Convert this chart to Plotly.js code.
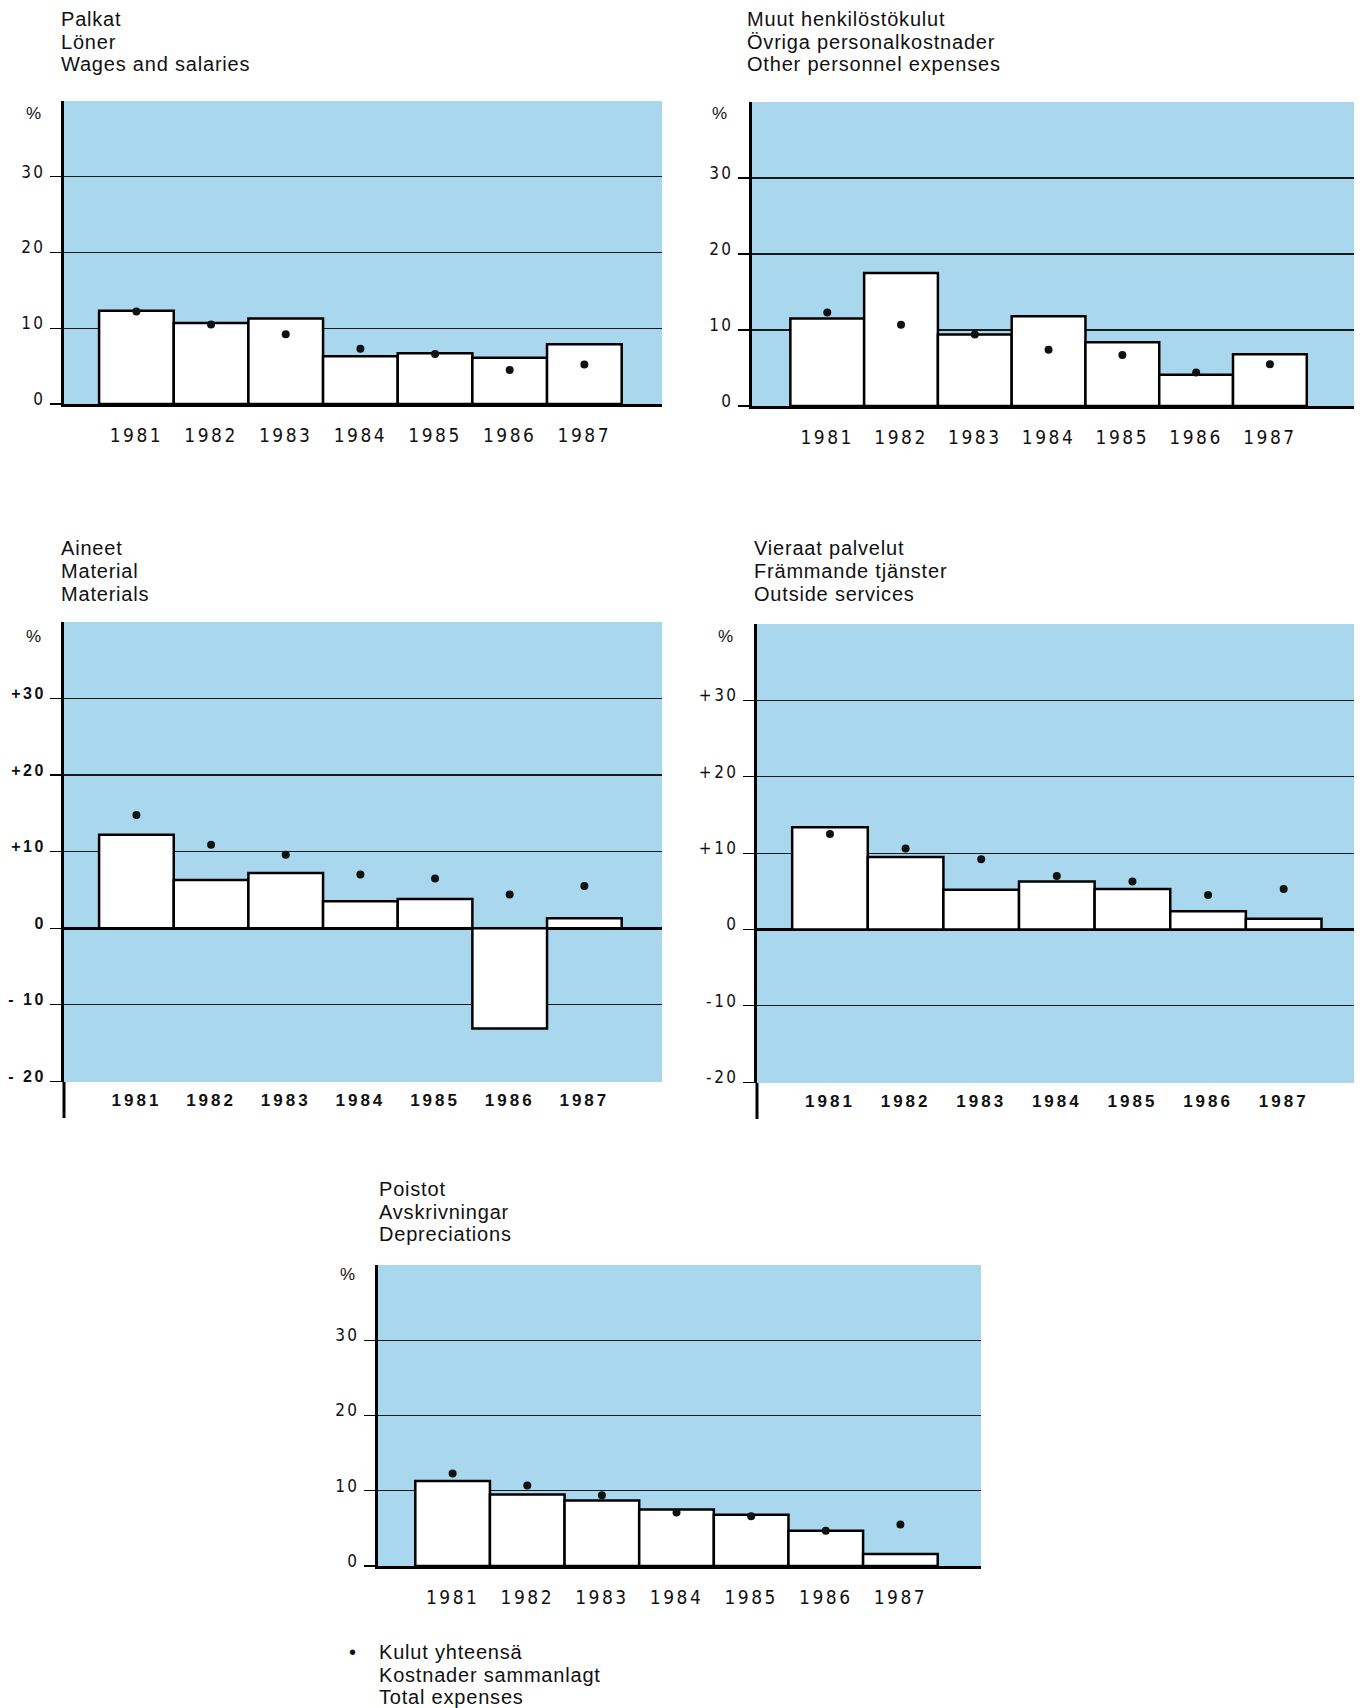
<!DOCTYPE html>
<html>
<head>
<meta charset="utf-8">
<script src="https://cdn.plot.ly/plotly-3.0.1.min.js"></script>
<style>
  html, body { margin: 0; padding: 0; background: #ffffff; }
  #chart { width: 1363px; height: 1708px; }
  .xtick text, .x2tick text, .x5tick text { letter-spacing: 2.5px; }
  .x3tick text, .x4tick text { letter-spacing: 3px; }
  .ytick text, .y2tick text, .y3tick text, .y4tick text, .y5tick text { letter-spacing: 2.5px; }
  .annotation-text { letter-spacing: 0.8px; }
</style>
</head>
<body>
<div id="chart"></div>
<script>
// ---------------- DATA ----------------
const years = ['1981', '1982', '1983', '1984', '1985', '1986', '1987'];

const wagesBars      = [12.3, 10.7, 11.3, 6.3, 6.7, 6.1, 7.9];
const wagesTotal     = [12.2, 10.5, 9.2, 7.3, 6.6, 4.5, 5.2];

const otherBars      = [11.5, 17.5, 9.4, 11.8, 8.4, 4.1, 6.8];
const otherTotal     = [12.3, 10.7, 9.4, 7.4, 6.7, 4.4, 5.5];

const materialsBars  = [12.2, 6.3, 7.2, 3.5, 3.8, -13.1, 1.3];
const materialsTotal = [14.8, 10.9, 9.6, 7.0, 6.5, 4.4, 5.5];

const servicesBars   = [13.4, 9.5, 5.2, 6.3, 5.3, 2.4, 1.4];
const servicesTotal  = [12.5, 10.6, 9.2, 7.0, 6.3, 4.5, 5.3];

const deprBars       = [11.3, 9.5, 8.7, 7.5, 6.8, 4.7, 1.6];
const deprTotal      = [12.3, 10.7, 9.4, 7.1, 6.6, 4.7, 5.5];

const titleWages     = ['Palkat', 'Löner', 'Wages and salaries'];
const titleOther     = ['Muut henkilöstökulut', 'Övriga personalkostnader', 'Other personnel expenses'];
const titleMaterials = ['Aineet', 'Material', 'Materials'];
const titleServices  = ['Vieraat palvelut', 'Främmande tjänster', 'Outside services'];
const titleDepr      = ['Poistot', 'Avskrivningar', 'Depreciations'];
const legendLines    = ['Kulut yhteensä', 'Kostnader sammanlagt', 'Total expenses'];

const tickValsPos    = [0, 10, 20, 30];
const tickTextPos    = ['0', '10', '20', '30'];
const tickValsPM     = [-20, -10, 0, 10, 20, 30];
const tickTextMat    = ['- 20', '- 10', '0', '+10', '+20', '+30'];
const tickTextServ   = ['-20', '-10', '0', '+10', '+20', '+30'];

// ---------------- LAYOUT HELPERS ----------------
const W = 1363, H = 1708;
const px = v => v / W;
const py = v => 1 - v / H;

const BLUE = '#a9d8ee';
const INK = '#111111';
const NARROW = 'Liberation Sans Narrow, DejaVu Sans Condensed, Arial Narrow, sans-serif';
const SANS = 'Liberation Sans, Arial, Helvetica, sans-serif';

// panel geometry: [left, right, top, bottom] in px, x index range, y range
const panels = [
  { bars: wagesBars,     total: wagesTotal,     title: titleWages,     box: [64, 662, 101, 404],   xr: [-0.97, 7.04], yr: [0, 40],     tv: tickValsPos, tt: tickTextPos,  pm: false, titleX: 59,  titleY: [19, 42, 64],     pct: [34, 113],   yBold: false },
  { bars: otherBars,     total: otherTotal,     title: titleOther,     box: [752, 1354, 102, 406], xr: [-1.02, 7.14], yr: [0, 40],     tv: tickValsPos, tt: tickTextPos,  pm: false, titleX: 745, titleY: [19, 42, 64],     pct: [720, 114],  yBold: false },
  { bars: materialsBars, total: materialsTotal, title: titleMaterials, box: [64, 662, 622, 1082],  xr: [-0.97, 7.04], yr: [-20.1, 40], tv: tickValsPM,  tt: tickTextMat,  pm: true,  titleX: 59,  titleY: [548, 571, 594],  pct: [34, 636],   yBold: true  },
  { bars: servicesBars,  total: servicesTotal,  title: titleServices,  box: [757, 1354, 624, 1083], xr: [-0.965, 6.93], yr: [-20.1, 40], tv: tickValsPM, tt: tickTextServ, pm: true,  titleX: 752, titleY: [548, 571, 594],  pct: [726, 636],  yBold: false },
  { bars: deprBars,      total: deprTotal,      title: titleDepr,      box: [378, 981, 1265, 1566], xr: [-1.0, 7.08],  yr: [0, 40],     tv: tickValsPos, tt: tickTextPos,  pm: false, titleX: 377, titleY: [1189, 1212, 1234], pct: [348, 1274], yBold: false }
];

const data = [];
const layout = {
  width: W, height: H,
  margin: { l: 0, r: 0, t: 0, b: 0 },
  paper_bgcolor: '#ffffff',
  plot_bgcolor: BLUE,
  showlegend: false,
  bargap: 0,
  barmode: 'overlay',
  annotations: [],
  shapes: []
};

panels.forEach((p, i) => {
  const n = i + 1;
  const xa = 'x' + n, ya = 'y' + n;
  const xKey = 'xaxis' + (n === 1 ? '' : n);
  const yKey = 'yaxis' + (n === 1 ? '' : n);

  data.push({
    type: 'bar', x: years, y: p.bars, xaxis: xa, yaxis: ya,
    marker: { color: '#ffffff', line: { color: '#000000', width: 2.5 } },
    hoverinfo: 'x+y'
  });
  data.push({
    type: 'scatter', mode: 'markers', x: years, y: p.total, xaxis: xa, yaxis: ya,
    marker: { color: INK, size: 8 },
    hoverinfo: 'x+y'
  });

  layout[xKey] = {
    domain: [px(p.box[0]), px(p.box[1])],
    anchor: ya,
    type: 'category',
    range: p.xr,
    showgrid: false,
    zeroline: false,
    showline: !p.pm,
    linecolor: '#000000',
    linewidth: 3,
    ticks: '',
    ticklabelstandoff: p.pm ? 6 : 12,
    tickfont: p.pm
      ? { family: SANS, size: 17, color: INK, weight: 'bold' }
      : { family: NARROW, size: 19, color: INK },
    fixedrange: true
  };
  layout[yKey] = {
    domain: [py(p.box[3]), py(p.box[2])],
    anchor: xa,
    range: p.yr,
    tickmode: 'array',
    tickvals: p.tv,
    ticktext: p.tt,
    showgrid: true,
    gridcolor: '#1a1a1a',
    gridwidth: 1.2,
    zeroline: p.pm,
    zerolinecolor: '#000000',
    zerolinewidth: 3,
    showline: true,
    linecolor: '#000000',
    linewidth: 3,
    ticks: 'outside',
    ticklen: 11,
    tickwidth: 1.2,
    tickcolor: '#000000',
    ticklabelshift: -5,
    ticklabelstandoff: 1,
    tickfont: p.yBold
      ? { family: SANS, size: 16, color: INK, weight: 'bold' }
      : { family: NARROW, size: 17, color: INK },
    fixedrange: true
  };

  // Panel titles (three languages)
  p.title.forEach((t, k) => {
    layout.annotations.push({
      text: t, xref: 'paper', yref: 'paper',
      x: px(p.titleX), y: py(p.titleY[k]),
      xanchor: 'left', yanchor: 'middle', showarrow: false,
      font: { family: SANS, size: 20, color: INK }
    });
  });
  // % unit label
  layout.annotations.push({
    text: '%', xref: 'paper', yref: 'paper',
    x: px(p.pct[0]), y: py(p.pct[1]),
    xanchor: 'center', yanchor: 'middle', showarrow: false,
    font: { family: SANS, size: 17, color: INK }
  });

  // left axis continuing below the plot in the +/- panels
  if (p.pm) {
    layout.shapes.push({
      type: 'line', xref: xa + ' domain', yref: ya + ' domain',
      x0: 0, x1: 0, y0: 0, y1: -36 / (p.box[3] - p.box[2]),
      line: { color: '#000000', width: 3 }
    });
  }
});

// Legend for the dots
layout.annotations.push({
  text: '•', xref: 'paper', yref: 'paper',
  x: px(353), y: py(1652), xanchor: 'center', yanchor: 'middle', showarrow: false,
  font: { family: SANS, size: 20, color: INK }
});
[1652, 1675, 1697].forEach((yy, k) => {
  layout.annotations.push({
    text: legendLines[k], xref: 'paper', yref: 'paper',
    x: px(377), y: py(yy), xanchor: 'left', yanchor: 'middle', showarrow: false,
    font: { family: SANS, size: 20, color: INK }
  });
});

Plotly.newPlot('chart', data, layout, { staticPlot: true, displayModeBar: false });
</script>
</body>
</html>
